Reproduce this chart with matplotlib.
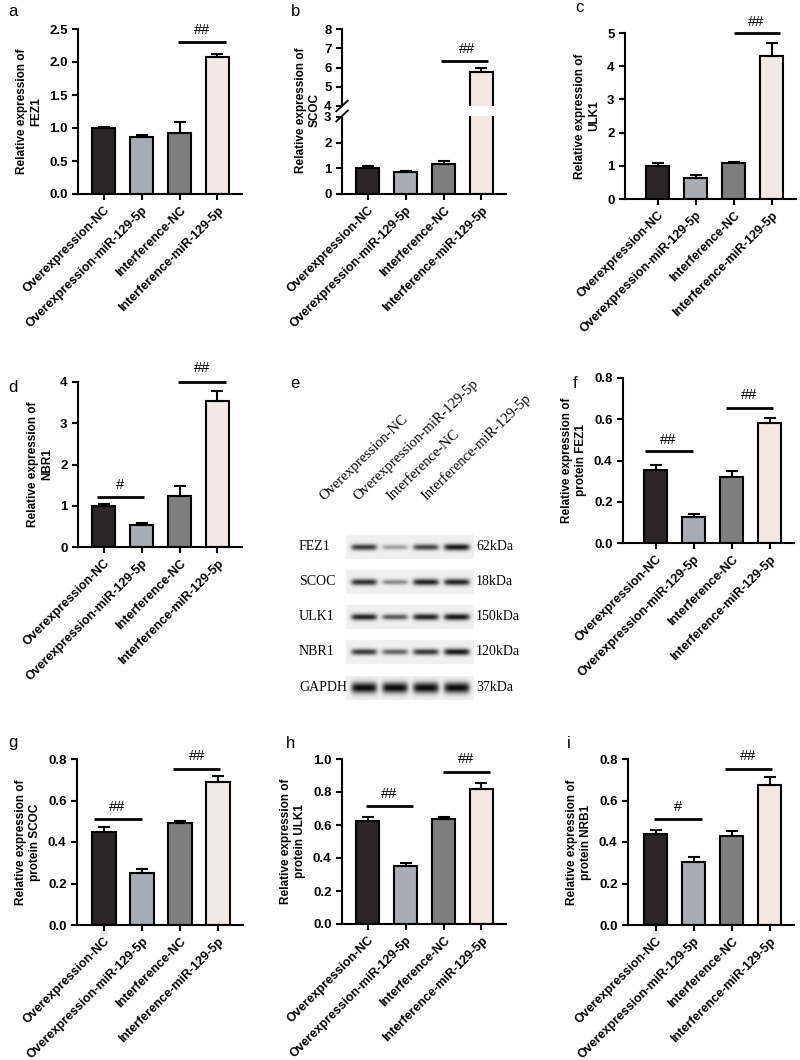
import numpy as np
import matplotlib
matplotlib.use('Agg')
import matplotlib.pyplot as plt

plt.rcParams['font.family'] = ['Liberation Sans', 'DejaVu Sans']
plt.rcParams['font.weight'] = 'bold'
plt.rcParams['axes.labelweight'] = 'bold'

W, H = 800, 1060

groups = ['Overexpression-NC', 'Overexpression-miR-129-5p', 'Interference-NC', 'Interference-miR-129-5p']
colors = ['#2a2527', '#a8adb4', '#7e7e7e', '#f2e9e4']

# mRNA (a-d)
fez1_mrna = [1.00, 0.86, 0.93, 2.07]
fez1_mrna_err = [0.02, 0.03, 0.16, 0.05]
scoc_mrna = [1.00, 0.85, 1.16, 5.77]
scoc_mrna_err = [0.10, 0.03, 0.14, 0.21]
ulk1_mrna = [1.00, 0.63, 1.07, 4.30]
ulk1_mrna_err = [0.07, 0.09, 0.03, 0.39]
nbr1_mrna = [0.99, 0.53, 1.24, 3.54]
nbr1_mrna_err = [0.06, 0.05, 0.24, 0.24]

# protein (f-i)
fez1_prot = [0.354, 0.127, 0.320, 0.580]
fez1_prot_err = [0.024, 0.013, 0.030, 0.025]
scoc_prot = [0.448, 0.250, 0.490, 0.690]
scoc_prot_err = [0.024, 0.020, 0.010, 0.028]
ulk1_prot = [0.624, 0.350, 0.636, 0.820]
ulk1_prot_err = [0.026, 0.020, 0.014, 0.035]
nrb1_prot = [0.440, 0.305, 0.430, 0.675]
nrb1_prot_err = [0.017, 0.022, 0.023, 0.038]

# western blot (e)
blot_proteins = ['FEZ1', 'SCOC', 'ULK1', 'NBR1', 'GAPDH']
blot_kda = ['62kDa', '18kDa', '150kDa', '120kDa', '37kDa']
blot_intensity = [[0.80, 0.35, 0.75, 0.95],
                  [0.85, 0.45, 0.90, 0.90],
                  [0.90, 0.65, 0.90, 0.95],
                  [0.80, 0.62, 0.80, 0.95],
                  [1.00, 1.00, 1.00, 1.00]]


def px_box(left, top, right, bottom):
    return [left / W, 1 - bottom / H, (right - left) / W, (bottom - top) / H]


SP = 38.0  # px per bar slot


def make_axes(fig, axis_x, offset, top, bottom):
    right = axis_x + offset + 3.65 * SP
    ax = fig.add_axes(px_box(axis_x, top, right, bottom))
    ax.set_xlim(-offset / SP, 3.65)
    return ax


def style(ax, xticks=True):
    for s in ['top', 'right']:
        ax.spines[s].set_visible(False)
    for s in ['left', 'bottom']:
        ax.spines[s].set_linewidth(1.5)
    ax.tick_params(width=1.5, length=4, labelsize=9.5)
    if xticks:
        ax.set_xticks(range(4))
        ax.set_xticklabels(groups, rotation=45, ha='right', rotation_mode='anchor', fontsize=9)
    else:
        ax.set_xticks([])


def draw_bars(ax, vals, errs):
    x = np.arange(4)
    ax.bar(x, vals, width=0.63, color=colors, edgecolor='black', linewidth=1.5, zorder=2)
    ax.errorbar(x, vals, yerr=[np.zeros(4), errs], fmt='none', ecolor='black',
                elinewidth=1.5, capsize=4.3, capthick=1.5, zorder=3)


def sig(ax, x0, x1, y, txt, tx, ty):
    ax.plot([x0, x1], [y, y], color='black', lw=2, clip_on=False, solid_capstyle='butt')
    ax.text(tx, ty, txt, ha='center', va='center', fontsize=10.5, fontweight='normal', clip_on=False)


fig = plt.figure(figsize=(8, 10.6), dpi=100)

def simple_panel(axis_x, offset, top, bottom, vals, errs, ymax, step, fmt, ylabel, sigs):
    ax = make_axes(fig, axis_x, offset, top, bottom)
    draw_bars(ax, vals, errs)
    ax.set_ylim(0, ymax)
    ticks = np.arange(0, ymax + step / 2, step)
    ax.set_yticks(ticks)
    ax.set_yticklabels([fmt.format(t) for t in ticks])
    style(ax)
    ax.set_ylabel(ylabel, fontsize=8.5, labelpad=5, linespacing=1.25)
    for s in sigs:
        sig(ax, *s)
    return ax

# a
simple_panel(78, 25.5, 29, 194, fez1_mrna, fez1_mrna_err, 2.5, 0.5, '{:.1f}',
             'Relative expression of\nFEZ1', [(1.96, 3.22, 2.30, '##', 2.6, 2.48)])

# b (broken axis)
b_lo = make_axes(fig, 342, 25.5, 116, 194)
draw_bars(b_lo, scoc_mrna, scoc_mrna_err)
b_lo.set_ylim(0, 78 / 25.7)
b_lo.set_yticks([0, 1, 2, 3])
style(b_lo)
b_lo.spines['left'].set_bounds(0, 3.0)
b_hi = make_axes(fig, 342, 25.5, 29, 106)
draw_bars(b_hi, scoc_mrna, scoc_mrna_err)
b_hi.set_ylim(4, 8)
b_hi.set_yticks([4, 5, 6, 7, 8])
style(b_hi, xticks=False)
b_hi.spines['bottom'].set_visible(False)
sig(b_hi, 1.93, 3.17, 6.34, '##', 2.62, 6.96)
for ax_, yy in [(b_lo, 1.0), (b_hi, 0.0)]:
    ax_.plot([-0.035, 0.035], [yy - 0.07, yy + 0.07], transform=ax_.transAxes,
             color='black', lw=1.3, clip_on=False)
fig.text(308 / W, 1 - 110 / H, 'Relative expression of\nSCOC', rotation=90, ha='center',
         va='center', fontsize=8.5, linespacing=1.25, multialignment='center')

# c
simple_panel(625, 32.5, 33, 199, ulk1_mrna, ulk1_mrna_err, 5, 1, '{:.0f}',
             'Relative expression of\nULK1', [(2.0, 3.22, 5.0, '##', 2.6, 5.33)])

# d
simple_panel(78, 25.5, 382, 547, nbr1_mrna, nbr1_mrna_err, 4, 1, '{:.0f}',
             'Relative expression of\nNBR1',
             [(-0.17, 1.07, 1.21, '#', 0.43, 1.5), (1.96, 3.22, 4.0, '##', 2.6, 4.35)])

# f
simple_panel(623, 32.5, 378, 543, fez1_prot, fez1_prot_err, 0.8, 0.2, '{:.1f}',
             'Relative expression of\nprotein FEZ1',
             [(-0.28, 0.99, 0.445, '##', 0.33, 0.50), (1.86, 3.09, 0.654, '##', 2.46, 0.717)])

# g
simple_panel(77, 27, 759, 925, scoc_prot, scoc_prot_err, 0.8, 0.2, '{:.1f}',
             'Relative expression of\nprotein SCOC',
             [(-0.26, 1.0, 0.51, '##', 0.34, 0.57), (1.81, 3.05, 0.75, '##', 2.44, 0.815)])

# h
simple_panel(342, 25.5, 759, 924, ulk1_prot, ulk1_prot_err, 1.0, 0.2, '{:.1f}',
             'Relative expression of\nprotein ULK1',
             [(-0.04, 1.2, 0.715, '##', 0.57, 0.79), (1.99, 3.22, 0.92, '##', 2.6, 1.0)])

# i
simple_panel(628, 27.5, 759, 925, nrb1_prot, nrb1_prot_err, 0.8, 0.2, '{:.1f}',
             'Relative expression of\nprotein NRB1',
             [(-0.04, 1.22, 0.51, '#', 0.59, 0.57), (1.83, 3.07, 0.75, '##', 2.44, 0.815)])

# e: western blot drawn in pixel coordinates
ax_e = fig.add_axes(px_box(270, 380, 560, 710))
ax_e.set_xlim(270, 560)
ax_e.set_ylim(710, 380)
ax_e.axis('off')
lane_x = [364, 395, 426, 457]
row_y = [547, 582, 617, 652, 688]
x0, x1, y0, y1 = 346, 474, 530, 705
xs = np.linspace(x0, x1, 260)
ys = np.linspace(y0, y1, 350)
XX, YY = np.meshgrid(xs, ys)
img = np.ones_like(XX)
for r, yr in enumerate(row_y):
    strip = np.abs(YY - yr) < 12
    img[strip] = 0.94
    sy = 4.5 if blot_proteins[r] == 'GAPDH' else 2.8
    for l, xl in enumerate(lane_x):
        inten = blot_intensity[r][l]
        hw = 13
        px = np.exp(-((XX - xl) / hw) ** 6)
        py = np.exp(-((YY - yr) / (sy * (0.7 + 0.5 * inten))) ** 2)
        img -= 0.9 * inten * px * py
img = np.clip(img, 0, 1)
ax_e.imshow(img, cmap='gray', vmin=0, vmax=1, extent=(x0, x1, y1, y0),
            interpolation='bilinear', aspect='auto')
for l, xl in enumerate(lane_x):
    ax_e.text(xl - 38 + 3 * l, 503, groups[l], rotation=44, ha='left', va='bottom',
              rotation_mode='anchor', family='Liberation Serif', fontweight='normal', fontsize=10.5)
for r, yr in enumerate(row_y):
    ax_e.text(299, yr, blot_proteins[r], ha='left', va='center',
              family='Liberation Serif', fontweight='normal', fontsize=10)
    ax_e.text(476, yr, blot_kda[r], ha='left', va='center',
              family='Liberation Serif', fontweight='normal', fontsize=10)

# panel letters
for letter, lx, ly in [('a', 8, 12), ('b', 291, 11), ('c', 575, 8), ('d', 8, 387),
                       ('e', 290, 384), ('f', 573, 384), ('g', 8, 742), ('h', 286, 743),
                       ('i', 567, 743)]:
    fig.text(lx / W, 1 - ly / H, letter, ha='left', va='center', fontsize=12, fontweight='normal')

fig.savefig('out.png', dpi=100)
